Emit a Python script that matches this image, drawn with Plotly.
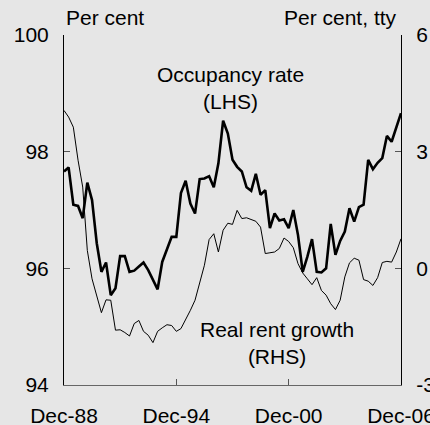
import pandas as pd
import plotly.graph_objects as go

# Quarterly, Dec-1988 to Dec-2006
dates = pd.date_range("1988-12-01", periods=73, freq="3MS")

occupancy = [
    97.66, 97.73, 97.09, 97.07, 96.86, 97.47, 97.17, 96.43, 95.94, 96.10,
    95.54, 95.66, 96.21, 96.21, 95.94, 95.96, 96.03, 96.10, 95.97, 95.80,
    95.64, 96.11, 96.34, 96.54, 96.54, 97.29, 97.50, 97.11, 96.94, 97.53,
    97.54, 97.58, 97.39, 97.80, 98.53, 98.31, 97.86, 97.74, 97.66, 97.39,
    97.33, 97.62, 97.26, 97.34, 96.69, 96.94, 96.82, 96.84, 96.69, 97.00,
    96.57, 95.94, 96.20, 96.50, 95.94, 95.93, 96.00, 96.76, 96.23, 96.47,
    96.63, 97.03, 96.80, 97.05, 97.09, 97.86, 97.70, 97.81, 97.89, 98.27,
    98.17, 98.42, 98.66,
]

rent_growth = [
    4.06, 3.89, 3.63, 2.78, 2.09, 0.46, -0.27, -0.74, -1.14, -0.81,
    -0.82, -1.59, -1.58, -1.65, -1.74, -1.42, -1.34, -1.62, -1.72, -1.91,
    -1.62, -1.53, -1.45, -1.47, -1.62, -1.55, -1.33, -1.08, -0.82, -0.39,
    0.08, 0.74, 0.89, 0.42, 0.98, 1.16, 1.13, 1.49, 1.28, 1.30,
    1.26, 1.21, 1.06, 0.38, 0.40, 0.42, 0.51, 0.78, 0.69, 0.53,
    0.12, -0.12, -0.27, -0.42, -0.24, -0.57, -0.69, -0.91, -1.06, -0.82,
    -0.22, 0.14, 0.26, 0.21, -0.29, -0.33, -0.44, -0.24, 0.15, 0.18,
    0.16, 0.42, 0.76,
]

x_tick_dates = ["1988-12-01", "1994-12-01", "2000-12-01", "2006-12-01"]
x_tick_labels = ["Dec-88", "Dec-94", "Dec-00", "Dec-06"]
left_ticks = [94, 96, 98, 100]
right_ticks = [-3, 0, 3, 6]
right_tick_labels = ["-3", "0", "3", "6"]

BG = "#e6e6e6"
FONT = "Liberation Sans, Arial, sans-serif"

fig = go.Figure()
fig.add_trace(go.Scatter(x=dates, y=rent_growth, yaxis="y2", mode="lines",
                         line=dict(color="black", width=1), showlegend=False))
fig.add_trace(go.Scatter(x=dates, y=occupancy, yaxis="y", mode="lines",
                         line=dict(color="black", width=2.6), showlegend=False))

fig.update_layout(
    width=430, height=425,
    margin=dict(l=64, r=29, t=35, b=40, autoexpand=False),
    paper_bgcolor=BG, plot_bgcolor=BG,
    font=dict(family=FONT, size=21, color="black"),
    xaxis=dict(
        range=[x_tick_dates[0], x_tick_dates[-1]],
        tickvals=x_tick_dates, ticktext=x_tick_labels,
        ticks="inside", ticklen=6, tickcolor="#555", tickwidth=1,
        showline=True, linecolor="#666", linewidth=1,
        showgrid=False, zeroline=False, automargin=False,
        ticklabelstandoff=12, ticklabeloverflow="allow",
    ),
    yaxis=dict(
        range=[94, 100], tickvals=left_ticks,
        ticks="inside", ticklen=6, tickcolor="#555", tickwidth=1,
        showline=True, linecolor="black", linewidth=1,
        showgrid=False, zeroline=False, automargin=False,
        ticklabelstandoff=10, ticklabeloverflow="allow",
    ),
    yaxis2=dict(
        range=[-3, 6], tickvals=right_ticks, ticktext=right_tick_labels,
        overlaying="y", side="right",
        ticks="inside", ticklen=6, tickcolor="#555", tickwidth=1,
        showline=True, linecolor="black", linewidth=1,
        showgrid=False, zeroline=False, automargin=False,
        ticklabelstandoff=10, ticklabeloverflow="allow",
    ),
    annotations=[
        dict(text="Per cent", xref="paper", yref="paper", x=0.0, y=1.049,
             xanchor="left", yanchor="middle", showarrow=False),
        dict(text="Per cent, tty", xref="paper", yref="paper", x=0.995, y=1.049,
             xanchor="right", yanchor="middle", showarrow=False),
        dict(text="Occupancy rate<br>(LHS)", xref="paper", yref="paper",
             x=0.495, y=0.849, xanchor="center", yanchor="middle",
             showarrow=False, align="center"),
        dict(text="Real rent growth<br>(RHS)", xref="paper", yref="paper",
             x=0.633, y=0.12, xanchor="center", yanchor="middle",
             showarrow=False, align="center"),
    ],
)

fig.write_html(
    "out.html",
    config={"displayModeBar": False},
    post_script="document.body.style.margin='0';"
                "document.body.style.background='#e6e6e6';",
)
